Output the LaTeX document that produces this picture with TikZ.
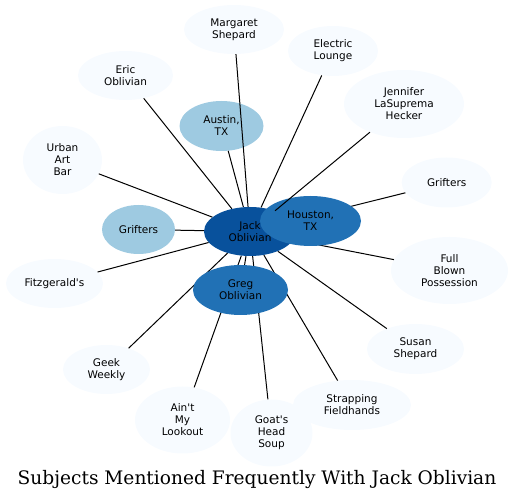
\documentclass[tikz,border=0pt]{standalone}
\usepackage{fontspec}
\newfontfamily\nodefont{DejaVu Sans}
\newfontfamily\titlefont{DejaVu Serif}
\usetikzlibrary{shapes.geometric}
\definecolor{cdark}{HTML}{08519C}
\definecolor{cmid}{HTML}{2171B5}
\definecolor{clight}{HTML}{9ECAE1}
\definecolor{cpale}{HTML}{F7FBFF}
\pgfdeclarelayer{front}
\pgfsetlayers{main,front}
\tikzset{
  ent/.style={ellipse, draw=none, inner sep=0pt, align=center,
    font=\nodefont\fontsize{10.5}{12}\selectfont, text=black},
  pale/.style={ent, fill=cpale},
  lite/.style={ent, fill=clight},
  midc/.style={ent, fill=cmid},
  darkc/.style={ent, fill=cdark},
  sz/.style 2 args={minimum width=#1pt, minimum height=#2pt},
  link/.style={draw=black, line width=1pt}
}
\begin{document}
\begin{tikzpicture}[x=1pt,y=-1pt]
\useasboundingbox (0,0) rectangle (515,502);
% outer nodes
\node[pale, sz={100}{49}] (margaret) at (234,29.5) {Margaret\\Shepard};
\node[pale, sz={95}{49}] (eric) at (125.5,75.5) {Eric\\Oblivian};
\node[pale, sz={90}{50}] (electric) at (333,51) {Electric\\Lounge};
\node[pale, sz={120}{68}] (jennifer) at (404,104) {Jennifer\\LaSuprema\\Hecker};
\node[pale, sz={79}{68}] (urban) at (62.5,160) {Urban\\Art\\Bar};
\node[pale, sz={90}{50}] (griftersR) at (446.7,182.5) {Grifters};
\node[pale, sz={97}{49}] (fitz) at (54.5,283.5) {Fitzgerald's};
\node[pale, sz={117}{67}] (full) at (449.5,270.5) {Full\\Blown\\Possession};
\node[pale, sz={97}{50}] (susan) at (415.5,349) {Susan\\Shepard};
\node[pale, sz={87}{49}] (geek) at (106.5,369.5) {Geek\\Weekly};
\node[pale, sz={95}{67}] (aint) at (182.5,420) {Ain't\\My\\Lookout};
\node[pale, sz={82}{67}] (goat) at (271.5,433) {Goat's\\Head\\Soup};
\node[pale, sz={118}{50}] (strapping) at (352,405) {Strapping\\Fieldhands};
\node[lite, sz={84}{50}] (austin) at (221.5,126) {Austin,\\TX};
\node[lite, sz={73}{49}] (griftersL) at (138.5,229.5) {Grifters};
% central nodes on top
\begin{pgfonlayer}{front}
\node[darkc, sz={92}{49}] (jack) at (250,231.5) {Jack\\Oblivian};
\node[midc, sz={101}{50}] (houston) at (310.5,221) {Houston,\\TX};
\node[midc, sz={95}{50}] (greg) at (240.5,290) {Greg\\Oblivian};
\draw[link] (jack) -- (jennifer);
\end{pgfonlayer}
% connectors
\foreach \n in {margaret,eric,austin,electric,urban,griftersR,griftersL,fitz,full,susan,geek,aint,goat,strapping,greg}
  \draw[link] (jack) -- (\n);
% title
\node[anchor=base, inner sep=0pt, font=\titlefont\fontsize{18.6}{21}\selectfont] (title) at (257,485) {Subjects Mentioned Frequently With Jack Oblivian};
\end{tikzpicture}
\end{document}
